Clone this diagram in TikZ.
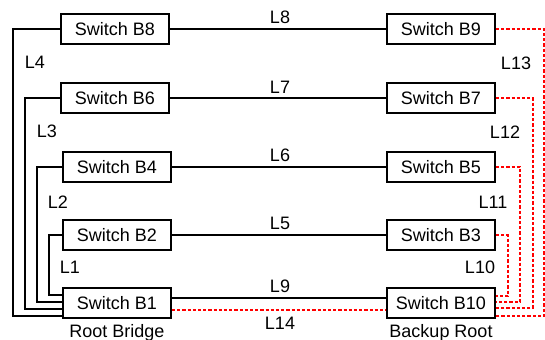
\documentclass[tikz,border=0pt]{standalone}
\usepackage{fontspec}
\setmainfont{Liberation Sans}
\usepackage{tikz}

\begin{document}
\begin{tikzpicture}[x=0.5pt, y=-0.5pt, font=\fontsize{9pt}{10pt}\selectfont,
    switch/.style={draw, line width=0.9pt, minimum width=54pt, minimum height=15pt, inner sep=0pt},
    link/.style={line width=0.9pt},
    backup/.style={red, line width=0.9pt, dash pattern=on 1.6pt off 1pt},
    lbl/.style={inner sep=0pt}]
    \useasboundingbox (0,0) rectangle (545,340);

    % Switches de la izquierda
    \node[switch] (B8) at (115,29) {Switch B8};
    \node[switch] (B6) at (115,98) {Switch B6};
    \node[switch] (B4) at (117,167) {Switch B4};
    \node[switch] (B2) at (117,235) {Switch B2};
    \node[switch] (B1) at (117,303) {Switch B1};

    % Switches de la derecha
    \node[switch] (B9) at (441,29) {Switch B9};
    \node[switch] (B7) at (441,98) {Switch B7};
    \node[switch] (B5) at (441,167) {Switch B5};
    \node[switch] (B3) at (441,235) {Switch B3};
    \node[switch] (B10) at (441,303) {Switch B10};

    \node[lbl] (root) at (117,333) {Root Bridge};
    \node[lbl] (backuproot) at (441,333) {Backup Root};

    % Enlaces horizontales
    \draw[link] (B8) -- (B9);
    \draw[link] (B6) -- (B7);
    \draw[link] (B4) -- (B5);
    \draw[link] (B2) -- (B3);
    \draw[link] ([yshift=2.5pt]B1.east) -- ([yshift=2.5pt]B10.west);
    \draw[backup] ([yshift=-3.5pt]B1.east) -- ([yshift=-3.5pt]B10.west);

    % Enlaces hacia el Root Bridge (negro)
    \draw[link] (B8.west) -- ++(-47,0) |- ([yshift=-6.5pt]B1.west);
    \draw[link] (B6.west) -- ++(-35,0) |- ([yshift=-3pt]B1.west);
    \draw[link] (B4.west) -- ++(-25,0) |- ([yshift=0.5pt]B1.west);
    \draw[link] (B2.west) -- ++(-13,0) |- ([yshift=4pt]B1.west);

    % Enlaces hacia el Backup Root (rojo, punteado)
    \draw[backup] (B9.east) -- ++(48,0) |- ([yshift=-6.5pt]B10.east);
    \draw[backup] (B7.east) -- ++(37,0) |- ([yshift=-2.5pt]B10.east);
    \draw[backup] (B5.east) -- ++(24,0) |- ([yshift=0.5pt]B10.east);
    \draw[backup] (B3.east) -- ++(12,0) |- ([yshift=3.5pt]B10.east);

    % Etiquetas de los enlaces
    \node[lbl] (L8) at (280,17) {L8};
    \node[lbl] (L7) at (280,87) {L7};
    \node[lbl] (L6) at (280,155) {L6};
    \node[lbl] (L5) at (280,223) {L5};
    \node[lbl] (L9) at (280,286) {L9};
    \node[lbl] (L14) at (280,323) {L14};
    \node[lbl] (L4) at (35,62) {L4};
    \node[lbl] (L3) at (47,131) {L3};
    \node[lbl] (L2) at (58,202) {L2};
    \node[lbl] (L1) at (70,267) {L1};
    \node[lbl] (L13) at (516,63) {L13};
    \node[lbl] (L12) at (505,132) {L12};
    \node[lbl] (L11) at (493,202) {L11};
    \node[lbl] (L10) at (480,267) {L10};
\end{tikzpicture}
\end{document}
